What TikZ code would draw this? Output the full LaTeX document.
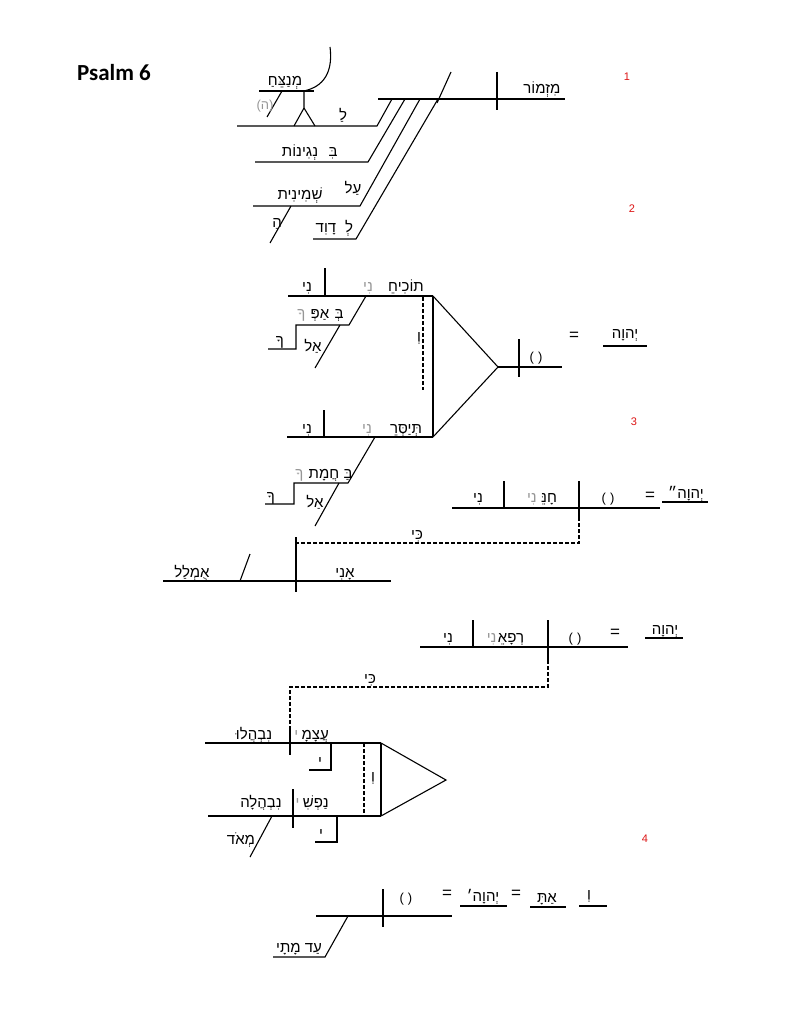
\documentclass[tikz,border=0pt]{standalone}
\usepackage{fontspec}
\usepackage{xcolor}
\usetikzlibrary{positioning}
\setmainfont{Liberation Sans}
\newfontfamily\hebfont[Script=Hebrew]{Liberation Sans}
\newfontfamily\titlefont{Carlito}
\TeXXeTstate=1
\definecolor{ghostgray}{RGB}{150,150,150}
\definecolor{versered}{RGB}{220,20,20}
\newcommand{\hw}[1]{\beginR #1\endR}
\newcommand{\gap}{(\hspace{4pt})}
\tikzstyle{line} = [draw, line width=1.1pt]
\tikzstyle{dashline} = [draw, line width=1.1pt, dash pattern=on 4pt off 2pt]

\begin{document}
\begin{tikzpicture}[x=1pt, y=-1pt,
  heb/.style={font=\hebfont\fontsize{15}{17}\selectfont, inner sep=0pt, anchor=base},
  ghost/.style={heb, text=ghostgray},
  plain/.style={font=\fontsize{13}{15}\selectfont, inner sep=0pt, anchor=base},
  eq/.style={font=\fontsize{17}{18}\selectfont, inner sep=0pt, anchor=base},
  versenum/.style={font=\fontsize{11}{12}\selectfont, text=versered, inner sep=0pt}]
  \useasboundingbox (0,0) rectangle (791,1024);

  \node[font=\titlefont\bfseries\fontsize{23}{26}\selectfont, inner sep=0pt] (title) at (114,73) {Psalm 6};

  % verse numbers
  \node[versenum] (v1) at (627,77) {1};
  \node[versenum] (v2) at (632,209) {2};
  \node[versenum] (v3) at (634,422) {3};
  \node[versenum] (v4) at (645,839) {4};

  % verse 1: superscription
  \draw[line] (330,47) .. controls (334,78) and (318,88) .. (304,91);
  \draw[line] (259,91) -- (314,91);
  \draw[line] (282,91) -- (267,117);
  \draw[line] (304,91) -- (304,108) -- (294,126);
  \draw[line] (304,108) -- (315,126);
  \draw[line] (237,126) -- (377,126) -- (392,99);
  \draw[line] (378,99) -- (565,99);
  \draw[line] (255,162) -- (368,162) -- (405,99);
  \draw[line] (253,206) -- (360,206) -- (420,99);
  \draw[line] (291,206) -- (270,243);
  \draw[line] (313,239) -- (356,239) -- (438,99);
  \draw[line] (437,103) -- (451,72);
  \draw[line] (497,72) -- (497,110);
  \node[heb] (menatseach) at (285,86) {\hw{מְנַצֵּחַ}};
  \node[plain, text=ghostgray] (he1) at (265,110) {(ה)};
  \node[heb] (la) at (343,121) {\hw{לַ}};
  \node[heb] (bi1) at (333,157) {\hw{בִּ}};
  \node[heb] (neginot) at (300,157) {\hw{נְגִינוֹת}};
  \node[heb] (al1) at (353,194) {\hw{עַל}};
  \node[heb] (sheminit) at (300,200) {\hw{שְׁמִינִית}};
  \node[heb] (ha) at (277,227) {\hw{הַ}};
  \node[heb] (le) at (349,233) {\hw{לְ}};
  \node[heb] (david) at (326,233) {\hw{דָוִד}};
  \node[heb] (mizmor) at (542,94) {\hw{מִזְמוֹר}};

  % verse 2: rebuke / chasten
  \draw[line] (288,296) -- (433,296);
  \draw[line] (325,268) -- (325,296);
  \draw[line] (366,296) -- (349,325) -- (296,325) -- (296,349) -- (268,349);
  \draw[line] (340,325) -- (315,368);
  \draw[dashline] (423,297) -- (423,390);
  \draw[line] (433,296) -- (433,437);
  \draw[line] (433,296) -- (498,367) -- (433,437);
  \draw[line] (498,367) -- (562,367);
  \draw[line] (519,339) -- (519,377);
  \draw[line] (603,346) -- (647,346);
  \draw[line] (287,437) -- (433,437);
  \draw[line] (324,410) -- (324,437);
  \draw[line] (375,437) -- (348,483) -- (294,483) -- (294,504) -- (265,504);
  \draw[line] (339,483) -- (315,526);
  \node[heb] (ni1) at (307,291) {\hw{נִי}};
  \node[heb] (tokhiche) at (406,291) {\hw{תוֹכִיחֵ}};
  \node[ghost] (ni2) at (368,291) {\hw{נִי}};
  \node[heb] (be1) at (339,318) {\hw{בְּ}};
  \node[heb] (appe) at (320,318) {\hw{אַפְּ}};
  \node[ghost, anchor=base east] (kha1) at ([xshift=-5pt]appe.base west) {\hw{ךָ}};
  \node[heb] (kha2) at (280,345) {\hw{ךָ}};
  \node[heb] (al2) at (313,351) {\hw{אַל}};
  \node[heb] (ve1) at (419,341) {\hw{וְ}};
  \node[plain] (empty1) at (536,361) {\gap};
  \node[eq] (eq1) at (574,340) {=};
  \node[heb] (yhwh1) at (625,338) {\hw{יְהוָה}};
  \node[heb] (ni3) at (307,433) {\hw{נִי}};
  \node[heb] (teyasre) at (406,433) {\hw{תְּיַסְּרֵ}};
  \node[ghost] (ni4) at (367,433) {\hw{נִי}};
  \node[heb] (ba1) at (348,478) {\hw{בַּ}};
  \node[heb] (chamat) at (324,478) {\hw{חֲמָת}};
  \node[ghost, anchor=base east] (kha3) at ([xshift=-5pt]chamat.base west) {\hw{ךָ}};
  \node[heb] (kha4) at (271,501) {\hw{ךָ}};
  \node[heb] (al3) at (315,507) {\hw{אַל}};

  % verse 3: be gracious
  \draw[line] (452,508) -- (660,508);
  \draw[line] (504,481) -- (504,508);
  \draw[line] (579,481) -- (579,517);
  \draw[dashline] (579,517) -- (579,543) -- (296,543);
  \draw[line] (296,537) -- (296,592);
  \draw[line] (662,502) -- (708,502);
  \draw[line] (163,581) -- (391,581);
  \draw[line] (240,581) -- (250,554);
  \node[heb] (ni5) at (478,502) {\hw{נִי}};
  \node[heb] (channe) at (549,502) {\hw{חָנֵּ}};
  \node[ghost, anchor=base east] (ni6) at ([xshift=-4pt]channe.base west) {\hw{נִי}};
  \node[plain] (empty2) at (608,502) {\gap};
  \node[eq] (eq2) at (650,500) {=};
  \node[heb] (yhwh2) at (686,498) {\hw{יְהוָה״}};
  \node[heb] (ki1) at (417,539) {\hw{כִּי}};
  \node[heb] (umlal) at (192,577) {\hw{אֻמְלַל}};
  \node[heb] (ani) at (345,577) {\hw{אָנִי}};

  % verse 3b: heal me
  \draw[line] (420,647) -- (628,647);
  \draw[line] (473,620) -- (473,647);
  \draw[line] (548,620) -- (548,660);
  \draw[dashline] (548,660) -- (548,687) -- (290,687) -- (290,730);
  \draw[line] (290,730) -- (290,755);
  \draw[line] (645,638) -- (683,638);
  \draw[line] (205,743) -- (381,743);
  \draw[line] (331,743) -- (331,770) -- (309,770);
  \draw[dashline] (364,743) -- (364,816);
  \draw[line] (381,743) -- (381,816);
  \draw[line] (381,743) -- (446,780) -- (381,816);
  \draw[line] (208,816) -- (381,816);
  \draw[line] (293,789) -- (293,828);
  \draw[line] (337,816) -- (337,842) -- (315,842);
  \draw[line] (272,816) -- (250,857);
  \node[heb] (ni7) at (448,642) {\hw{נִי}};
  \node[heb] (rephae) at (511,642) {\hw{רְפָאֵ}};
  \node[ghost, anchor=base east] (ni8) at ([xshift=-1pt]rephae.base west) {\hw{נִי}};
  \node[plain] (empty3) at (575,642) {\gap};
  \node[eq] (eq3) at (615,637) {=};
  \node[heb] (yhwh3) at (665,634) {\hw{יְהוָה}};
  \node[heb] (ki2) at (370,683) {\hw{כִּי}};
  \node[heb] (nivhalu) at (254,739) {\hw{נִבְהֲלוּ}};
  \node[heb, anchor=base east] (atsamai) at (329,739) {\hw{עֲצָמָ}};
  \node[ghost, anchor=base east] (yod1) at ([xshift=-3pt]atsamai.base west) {\hw{י}};
  \node[heb] (yod2) at (320,766) {\hw{י}};
  \node[heb] (ve2) at (373,781) {\hw{וְ}};
  \node[heb] (nivhala) at (261,807) {\hw{נִבְהֲלָה}};
  \node[heb, anchor=base east] (naphshi) at (329,807) {\hw{נַפְשִׁ}};
  \node[ghost, anchor=base east] (yod3) at ([xshift=-3pt]naphshi.base west) {\hw{י}};
  \node[heb] (yod4) at (321,838) {\hw{י}};
  \node[heb] (meod) at (241,844) {\hw{מְאֹד}};

  % verse 4: how long
  \draw[line] (316,916) -- (452,916);
  \draw[line] (383,889) -- (383,927);
  \draw[line] (460,906) -- (507,906);
  \draw[line] (530,907) -- (566,907);
  \draw[line] (579,906) -- (607,906);
  \draw[line] (348,916) -- (325,957) -- (273,957);
  \node[plain] (empty4) at (406,902) {\gap};
  \node[eq] (eq4) at (447,898) {=};
  \node[heb] (yhwh4) at (483,901) {\hw{יְהוָה׳}};
  \node[eq] (eq5) at (516,898) {=};
  \node[heb] (atta) at (547,902) {\hw{אַתָּ}};
  \node[heb] (ve3) at (589,899) {\hw{וְ}};
  \node[heb] (admatai) at (299,952) {\hw{עַד מָתָי}};
\end{tikzpicture}
\end{document}
